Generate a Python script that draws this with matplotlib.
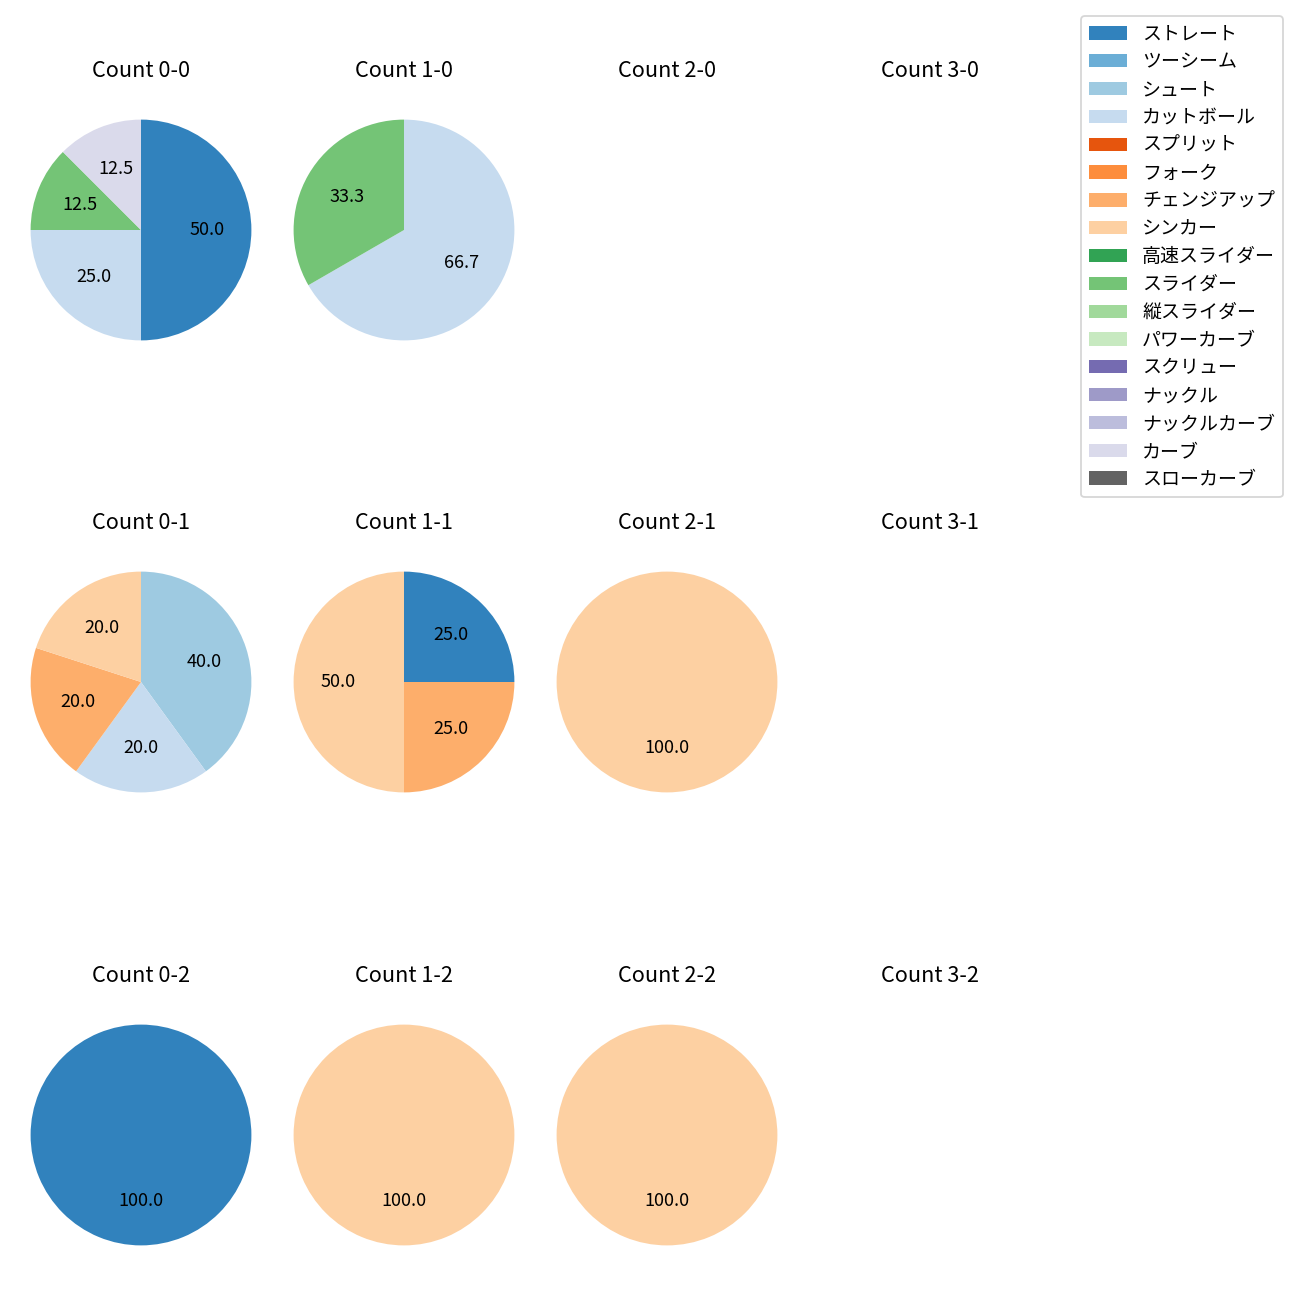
import matplotlib
matplotlib.use("Agg")
import matplotlib.pyplot as plt
from matplotlib.patches import Patch

plt.rcParams['font.family'] = ['Noto Sans CJK JP', 'DejaVu Sans']

pitch_types = ['ストレート', 'ツーシーム', 'シュート', 'カットボール', 'スプリット', 'フォーク',
               'チェンジアップ', 'シンカー', '高速スライダー', 'スライダー', '縦スライダー',
               'パワーカーブ', 'スクリュー', 'ナックル', 'ナックルカーブ', 'カーブ', 'スローカーブ']

cmap = plt.get_cmap('tab20c')
colors = {p: cmap(i) for i, p in enumerate(pitch_types)}

balls = [0, 1, 2, 3]
strikes = [0, 1, 2]

# data per count: (labels, values)
c00_labels = ['ストレート', 'カットボール', 'スライダー', 'カーブ']
c00_values = [4, 2, 1, 1]
c10_labels = ['カットボール', 'スライダー']
c10_values = [2, 1]
c01_labels = ['シュート', 'カットボール', 'チェンジアップ', 'シンカー']
c01_values = [2, 1, 1, 1]
c11_labels = ['ストレート', 'チェンジアップ', 'シンカー']
c11_values = [1, 1, 2]
c21_labels = ['シンカー']
c21_values = [1]
c02_labels = ['ストレート']
c02_values = [1]
c12_labels = ['シンカー']
c12_values = [1]
c22_labels = ['シンカー']
c22_values = [1]

data = {
    (0, 0): (c00_labels, c00_values),
    (1, 0): (c10_labels, c10_values),
    (0, 1): (c01_labels, c01_values),
    (1, 1): (c11_labels, c11_values),
    (2, 1): (c21_labels, c21_values),
    (0, 2): (c02_labels, c02_values),
    (1, 2): (c12_labels, c12_values),
    (2, 2): (c22_labels, c22_values),
}

W = H = 1300
fig = plt.figure(figsize=(10, 10), dpi=130)

col_cx = [141, 404, 667, 930]
row_cy = [230, 682, 1135]
side = 276

for s in strikes:
    for b in balls:
        cx, cy = col_cx[b], row_cy[s]
        ax = fig.add_axes([(cx - side / 2) / W, 1 - (cy + side / 2) / H, side / W, side / H])
        ax.set_title(f'Count {b}-{s}', fontsize=12, pad=8.2)
        if (b, s) in data:
            labs, vals = data[(b, s)]
            ax.pie(vals, colors=[colors[l] for l in labs], autopct='%.1f',
                   startangle=90, counterclock=False, textprops={'fontsize': 10})
        else:
            ax.set_xlim(-1.25, 1.25)
            ax.set_ylim(-1.25, 1.25)
        ax.set_aspect('equal')
        ax.axis('off')

handles = [Patch(facecolor=colors[p], label=p) for p in pitch_types]
fig.legend(handles=handles, loc='upper right', bbox_to_anchor=(0.994, 0.995),
           fontsize=10.5, labelspacing=0.36)

fig.savefig('out.png', dpi=130)
